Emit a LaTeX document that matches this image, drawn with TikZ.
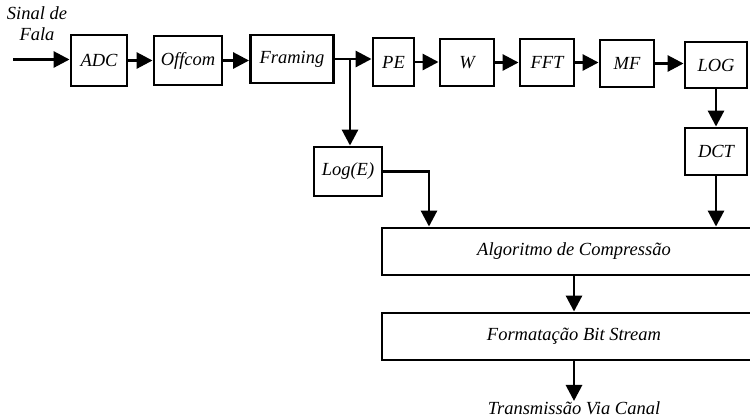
\documentclass[tikz,border=0pt]{standalone}
\usepackage{fontspec}
\setmainfont{Liberation Serif}
\usetikzlibrary{arrows.meta}
\begin{document}
\begin{tikzpicture}[x=1pt,y=-1pt,
  lw/.style={line width=2.9pt},
  blk/.style={draw,lw,inner sep=0pt,font=\fontsize{18.5}{21}\selectfont\itshape},
  arr/.style={lw,-{Triangle[length=16pt,width=16pt]}},
  txt/.style={inner sep=0pt,font=\fontsize{18.5}{21}\selectfont\itshape}]
\useasboundingbox (0,0) rectangle (750,418);
\begin{scope}
\clip (0,0) rectangle (750,418);

% top processing chain
\node[blk,minimum width=56pt,minimum height=51pt] (adc) at (99,60.5) {ADC};
\node[blk,minimum width=68pt,minimum height=49pt] (off) at (188,60.5) {Offcom};
\node[blk,minimum width=83pt,minimum height=48pt] (frm) at (292,59) {Framing};
\node[blk,minimum width=41pt,minimum height=48pt] (pe) at (393.5,62) {PE};
\node[blk,minimum width=54pt,minimum height=47pt] (w) at (467,62.5) {W};
\node[blk,minimum width=54pt,minimum height=47pt] (fft) at (547,62.5) {FFT};
\node[blk,minimum width=54pt,minimum height=47pt] (mf) at (627,63.5) {MF};
\node[blk,minimum width=62pt,minimum height=46pt] (log) at (716,65) {LOG};

% side branches
\node[blk,minimum width=62pt,minimum height=47pt] (dct) at (716,151.5) {DCT};
\node[blk,minimum width=68pt,minimum height=49pt] (loge) at (348,171.5) {Log(E)};

% coding stages (open on the right)
\node[blk,minimum width=384pt,minimum height=47pt] (alg) at (574,251.5) {Algoritmo de Compressão};
\node[blk,minimum width=384pt,minimum height=47pt] (fmt) at (574,336.5) {Formatação Bit Stream};

% input / output labels
\node[txt,align=center,anchor=north] (in) at (37,6) {Sinal de\\Fala};
\node[txt,anchor=base] (out) at (574,414) {Transmissão Via Canal};

\coordinate (src) at (13,59.5);
\coordinate (split) at (350,59);
\coordinate (ein) at (429,0);

% connectors
\draw[arr] (src) -- (src -| adc.west);
\draw[arr] (adc.east) -- (adc.east -| off.west);
\draw[arr] (off.east) -- (off.east -| frm.west);
\draw[arr] (frm.east) -- (frm.east -| pe.west);
\draw[arr] (pe.east) -- (pe.east -| w.west);
\draw[arr] (w.east) -- (w.east -| fft.west);
\draw[arr] (fft.east) -- (fft.east -| mf.west);
\draw[arr] (mf.east) -- (mf.east -| log.west);
\draw[arr] (log.south) -- (dct.north);
\draw[arr] (dct.south) -- (dct.south |- alg.north);
\draw[arr] (split) -- (split |- loge.north);
\draw[arr] (loge.east) -| (ein |- alg.north);
\draw[arr] (alg.south) -- (fmt.north);
\draw[arr] (fmt.south) -- (out.north);
\end{scope}
\end{tikzpicture}
\end{document}
